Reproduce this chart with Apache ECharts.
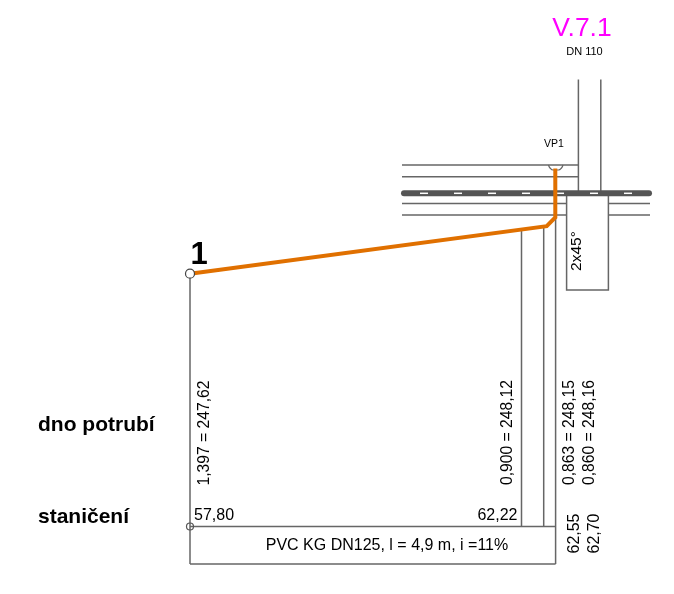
<!DOCTYPE html>
<html>
<head>
<meta charset="utf-8">
<style>html,body{margin:0;padding:0;background:#fff}#c{width:674px;height:594px}</style>
<script src="https://cdn.jsdelivr.net/npm/echarts@6/dist/echarts.min.js"></script>
</head>
<body>
<div id="c"></div>
<script>
// Values
const stations = ['57,80', '62,22', '62,55', '62,70'];
const depths = ['1,397', '0,900', '0,863', '0,860'];
const levels = ['247,62', '248,12', '248,15', '248,16'];
const rowTitles = ['dno potrubí', 'staničení'];
const pipeNote = 'PVC KG DN125, l = 4,9 m, i =11%';
const nodeName = '1';
const wellName = 'VP1';
const sectionName = 'V.7.1';
const branchName = 'DN 110';
const bendNote = '2x45°';

// Geometry of the schematic, in sheet units
const pipeRoute = [[190, 273.7], [546.7, 226.2], [555.3, 217.5], [555.3, 168.5]];
const dropLines = [
  [[190, 273.7], [190, 564]],
  [[521.5, 229], [521.5, 526.5]],
  [[543.7, 226.5], [543.7, 526.5]],
  [[555.6, 217.5], [555.6, 564]]
];
const tableLines = [
  [[190, 526.5], [555.6, 526.5]],
  [[190, 564], [555.6, 564]]
];
const planLines = [
  [[578.4, 79.5], [578.4, 192]],
  [[600.8, 79.5], [600.8, 192]],
  [[402, 165], [578.4, 165]],
  [[402, 176.8], [578.4, 176.8]],
  [[402, 203.4], [566.6, 203.4]],
  [[402, 215], [566.6, 215]],
  [[608.4, 203.4], [650, 203.4]],
  [[608.4, 215], [650, 215]],
  [[566.6, 196], [566.6, 290], [608.4, 290], [608.4, 196]]
];
const wellArc = [[548.5, 165], [550, 168], [553, 170], [558.5, 170], [561.5, 168], [563, 165]];
const roadLine = [[404, 193.3], [649, 193.3]];
const roadDashes = [
  [[420, 193.3], [428, 193.3]], [[454, 193.3], [462, 193.3]],
  [[488, 193.3], [496, 193.3]], [[522, 193.3], [530, 193.3]],
  [[557, 193.3], [564, 193.3]], [[590, 193.3], [598, 193.3]],
  [[624, 193.3], [632, 193.3]]
];
const nodeOpen = [[190, 273.7]];
const nodeBase = [[190, 526.5]];

const GREY = '#666666';
const ORANGE = '#e07000';
const FONT = '"Liberation Sans", Arial, sans-serif';

function poly(pts, color, width, z, extra) {
  return Object.assign({
    type: 'line', data: pts, symbol: 'none', silent: true, animation: false, z: z,
    lineStyle: { color: color, width: width, cap: 'butt', join: 'miter' }
  }, extra || {});
}
function text(str, x, y, size, opts) {
  const o = opts || {};
  return {
    value: [x, y],
    label: {
      show: true, position: 'inside', formatter: () => str, rotate: o.rotate || 0,
      fontFamily: FONT, fontSize: size, fontWeight: o.bold ? 'bold' : 'normal',
      color: o.color || '#000000', opacity: 1, textBorderWidth: 0, textShadowBlur: 0,
      align: o.align || 'center', verticalAlign: 'middle'
    }
  };
}
const textData = [
  text(sectionName, 582, 28.5, 26.5, { color: '#ff00ff' }),
  text(branchName, 584.5, 52, 11),
  text(wellName, 553.8, 144, 10.5),
  text(bendNote, 577, 251, 15.5, { rotate: 90 }),
  text(nodeName, 199, 255.5, 31, { bold: true }),
  text(rowTitles[0], 38, 425, 21, { bold: true, align: 'left' }),
  text(rowTitles[1], 38, 517, 21, { bold: true, align: 'left' }),
  text(stations[0], 194, 516, 16, { align: 'left' }),
  text(stations[1], 517.5, 515.5, 16, { align: 'right' }),
  text(stations[2], 575, 533.5, 16, { rotate: 90 }),
  text(stations[3], 594.5, 533.5, 16, { rotate: 90 }),
  text(depths[0] + ' = ' + levels[0], 204.5, 433, 15.7, { rotate: 90 }),
  text(depths[1] + ' = ' + levels[1], 507.2, 432.5, 15.7, { rotate: 90 }),
  text(depths[2] + ' = ' + levels[2], 569.2, 432.5, 15.7, { rotate: 90 }),
  text(depths[3] + ' = ' + levels[3], 589.2, 432.5, 15.7, { rotate: 90 }),
  text(pipeNote, 387, 546, 16)
];

const series = [];
dropLines.concat(tableLines, planLines).forEach(p => series.push(poly(p, GREY, 1.5, 2)));
series.push(poly(wellArc, '#666', 1.2, 2, { smooth: true }));
series.push(poly(roadLine, '#555', 6, 3, { lineStyle: { color: '#555', width: 6, cap: 'round' } }));
roadDashes.forEach(p => series.push(poly(p, '#fff', 1.5, 4)));
series.push(poly(pipeRoute, ORANGE, 4, 5));
series.push({
  type: 'scatter', data: nodeBase, symbol: 'circle', symbolSize: 7, silent: true, animation: false, z: 6,
  itemStyle: { color: 'rgba(255,255,255,0)', borderColor: '#555', borderWidth: 1.2, opacity: 1 }
});
series.push({
  type: 'scatter', data: nodeOpen, symbol: 'circle', symbolSize: 9, silent: true, animation: false, z: 6,
  itemStyle: { color: '#fff', borderColor: '#444', borderWidth: 1.2, opacity: 1 }
});
series.push({
  type: 'scatter', data: textData, symbolSize: 1, silent: true, animation: false, z: 7,
  itemStyle: { color: 'rgba(255,255,255,0)', opacity: 1 }
});

echarts.init(document.getElementById('c'), null, { renderer: 'canvas' }).setOption({
  backgroundColor: '#fff',
  animation: false,
  tooltip: { show: false },
  grid: { left: 0, right: 0, top: 0, bottom: 0 },
  xAxis: { type: 'value', min: 0, max: 674, show: false },
  yAxis: { type: 'value', min: 0, max: 594, inverse: true, show: false },
  series: series
});
</script>
</body>
</html>
